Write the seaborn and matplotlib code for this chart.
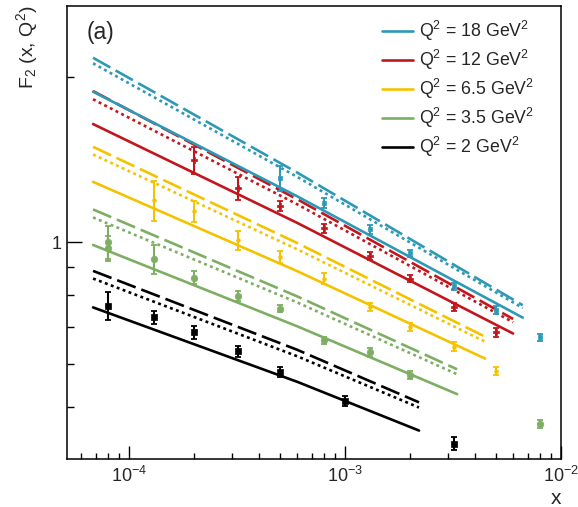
import numpy as np
import pandas as pd
import matplotlib
matplotlib.use("Agg")
import matplotlib.pyplot as plt
import seaborn as sns
from matplotlib.lines import Line2D
from matplotlib.ticker import FixedLocator, FixedFormatter, NullFormatter

sns.set_style("white")
plt.rcParams["font.family"] = ["Liberation Sans", "DejaVu Sans"]
plt.rcParams["mathtext.fontset"] = "custom"
plt.rcParams["mathtext.rm"] = "Liberation Sans"
plt.rcParams["mathtext.it"] = "Liberation Sans:italic"
plt.rcParams["mathtext.bf"] = "Liberation Sans:bold"

# ---------------- data ----------------
series_names = ["Q2=2", "Q2=3.5", "Q2=6.5", "Q2=12", "Q2=18"]
legend_labels = ["Q$^{2}$ = 18 GeV$^{2}$", "Q$^{2}$ = 12 GeV$^{2}$",
                 "Q$^{2}$ = 6.5 GeV$^{2}$", "Q$^{2}$ = 3.5 GeV$^{2}$",
                 "Q$^{2}$ = 2 GeV$^{2}$"]
colors = {"Q2=2": "#000000", "Q2=3.5": "#7dae64", "Q2=6.5": "#f4c300",
          "Q2=12": "#c2161d", "Q2=18": "#2e99b6"}

# measured points
x_pts_2 = [8e-5, 1.3e-4, 2e-4, 3.2e-4, 5e-4, 1e-3, 3.2e-3]
f2_pts_2 = [0.766, 0.729, 0.685, 0.632, 0.579, 0.513, 0.429]
err_pts_2 = [0.045, 0.020, 0.019, 0.014, 0.012, 0.011, 0.012]

x_pts_35 = [8e-5, 8e-5, 1.3e-4, 2e-4, 3.2e-4, 5e-4, 8e-4, 1.3e-3, 2e-3, 8e-3]
f2_pts_35 = [1.001, 0.974, 0.930, 0.861, 0.797, 0.756, 0.662, 0.629, 0.572, 0.465]
err_pts_35 = [0.07, 0.05, 0.056, 0.024, 0.016, 0.012, 0.010, 0.012, 0.010, 0.008]

x_pts_65 = [1.3e-4, 2e-4, 3.2e-4, 5e-4, 8e-4, 1.3e-3, 2e-3, 3.2e-3, 5e-3]
f2_pts_65 = [1.193, 1.139, 1.008, 0.940, 0.858, 0.762, 0.700, 0.644, 0.582]
err_pts_65 = [0.10, 0.05, 0.04, 0.025, 0.020, 0.012, 0.012, 0.012, 0.010]

x_pts_12 = [2e-4, 3.2e-4, 5e-4, 8e-4, 1.3e-3, 2e-3, 3.2e-3, 5e-3]
f2_pts_12 = [1.411, 1.253, 1.165, 1.059, 0.943, 0.858, 0.762, 0.684]
err_pts_12 = [0.08, 0.06, 0.025, 0.020, 0.015, 0.012, 0.012, 0.012]

x_pts_18 = [5e-4, 8e-4, 1.3e-3, 2e-3, 3.2e-3, 5e-3, 8e-3]
f2_pts_18 = [1.307, 1.177, 1.055, 0.954, 0.831, 0.751, 0.670]
err_pts_18 = [0.07, 0.025, 0.020, 0.015, 0.012, 0.012, 0.010]

# model curves (start, middle, end)
x_line_2 = [6.8e-5, 6e-4, 2.2e-3]
solid_2 = [0.760, 0.556, 0.453]
dashed_2 = [0.886, 0.636, 0.510]
dotted_2 = [0.858, 0.619, 0.499]

x_line_35 = [6.8e-5, 6e-4, 3.3e-3]
solid_35 = [0.988, 0.702, 0.528]
dashed_35 = [1.147, 0.796, 0.586]
dotted_35 = [1.109, 0.776, 0.574]

x_line_65 = [6.8e-5, 6e-4, 4.45e-3]
solid_65 = [1.288, 0.885, 0.613]
dashed_65 = [1.492, 0.996, 0.672]
dotted_65 = [1.445, 0.970, 0.658]

x_line_12 = [6.8e-5, 6e-4, 6.0e-3]
solid_12 = [1.642, 1.084, 0.681]
dashed_12 = [1.886, 1.197, 0.724]
dotted_12 = [1.822, 1.172, 0.714]

x_line_18 = [6.8e-5, 6e-4, 6.65e-3]
solid_18 = [1.881, 1.212, 0.728]
dashed_18 = [2.169, 1.339, 0.767]
dotted_18 = [2.119, 1.315, 0.758]

points = {
    "Q2=2": (x_pts_2, f2_pts_2, err_pts_2),
    "Q2=3.5": (x_pts_35, f2_pts_35, err_pts_35),
    "Q2=6.5": (x_pts_65, f2_pts_65, err_pts_65),
    "Q2=12": (x_pts_12, f2_pts_12, err_pts_12),
    "Q2=18": (x_pts_18, f2_pts_18, err_pts_18),
}
lines = {
    "Q2=2": (x_line_2, solid_2, dashed_2, dotted_2),
    "Q2=3.5": (x_line_35, solid_35, dashed_35, dotted_35),
    "Q2=6.5": (x_line_65, solid_65, dashed_65, dotted_65),
    "Q2=12": (x_line_12, solid_12, dashed_12, dotted_12),
    "Q2=18": (x_line_18, solid_18, dashed_18, dotted_18),
}
markers = {"Q2=2": ("s", 24), "Q2=3.5": ("o", 22), "Q2=6.5": ("o", 7),
           "Q2=12": ("P", 14), "Q2=18": ("s", 9)}

# ---------------- figure ----------------
W, H = 578, 507
fig = plt.figure(figsize=(W / 100, H / 100), dpi=100)
ax = fig.add_axes([67 / W, 1 - 459 / H, (561 - 67) / W, (459 - 6) / H])
ax.set_xscale("log")
ax.set_yscale("log")

lw = 1.9
styles = {"solid": "-", "dashed": (0, (7.5, 2.3)), "dotted": (0, (1.1, 1.3))}

for name in series_names:
    c = colors[name]
    xl, s, d, o = lines[name]
    for vals, key in ((d, "dashed"), (o, "dotted"), (s, "solid")):
        sns.lineplot(x=xl, y=vals, ax=ax, color=c, linewidth=lw,
                     linestyle=styles[key], estimator=None, sort=False,
                     legend=False)
    xp, yp, ep = points[name]
    ax.errorbar(xp, yp, yerr=ep, fmt="none", ecolor=c, elinewidth=1.5,
                capsize=2, capthick=1.3, zorder=4)
    mk, sz = markers[name]
    sns.scatterplot(x=xp, y=yp, ax=ax, color=c, marker=mk, s=sz,
                    edgecolor=c, linewidth=0.5, zorder=5, legend=False)

ax.set_xlim(5.15e-5, 1e-2)
ax.set_ylim(0.402, 2.696)

# ticks
ax.xaxis.set_major_locator(FixedLocator([1e-4, 1e-3, 1e-2]))
ax.xaxis.set_major_formatter(FixedFormatter(["$10^{-4}$", "$10^{-3}$", "$10^{-2}$"]))
xminor = [m * 10.0 ** e for e in (-5, -4, -3) for m in range(2, 10)]
ax.xaxis.set_minor_locator(FixedLocator(xminor))
ax.xaxis.set_minor_formatter(NullFormatter())
ax.yaxis.set_major_locator(FixedLocator([1.0]))
ax.yaxis.set_major_formatter(FixedFormatter(["1"]))
ax.yaxis.set_minor_locator(FixedLocator([0.5, 0.6, 0.7, 0.8, 0.9, 2.0]))
ax.yaxis.set_minor_formatter(NullFormatter())

ax.tick_params(axis="x", which="major", direction="in", length=9.5, width=1.0,
               labelsize=13, pad=5, bottom=True, top=False, color="black")
ax.tick_params(axis="x", which="minor", direction="in", length=4.5, width=1.0,
               bottom=True, top=False, color="black")
ax.tick_params(axis="y", which="major", direction="in", length=10.5, width=1.0,
               labelsize=13, pad=4, left=True, right=False, color="black")
ax.tick_params(axis="y", which="minor", direction="in", length=5, width=1.0,
               left=True, right=False, color="black")
for sp in ax.spines.values():
    sp.set_linewidth(1.1)
    sp.set_color("black")

# labels
fig.text(27 / W, 1 - 6 / H, "F$_{2}$ (x, Q$^{2}$)", rotation=90,
         ha="center", va="top", fontsize=14)
fig.text(556 / W, 1 - 499 / H, "x", ha="center", va="center", fontsize=15)
ax.text(87 / W, 1 - 32 / H, "(a)", transform=fig.transFigure, ha="left",
        va="center", fontsize=16.5)

# legend
order = ["Q2=18", "Q2=12", "Q2=6.5", "Q2=3.5", "Q2=2"]
handles = [Line2D([0], [0], color=colors[n], linewidth=lw) for n in order]
ax.legend(handles, legend_labels, loc="upper left",
          bbox_to_anchor=(382 / W, 1 - 19 / H), bbox_transform=fig.transFigure,
          frameon=False, fontsize=12.8, handlelength=1.75, handletextpad=0.35,
          labelspacing=0.28, borderpad=0, borderaxespad=0)

fig.savefig("out.png", dpi=100)
